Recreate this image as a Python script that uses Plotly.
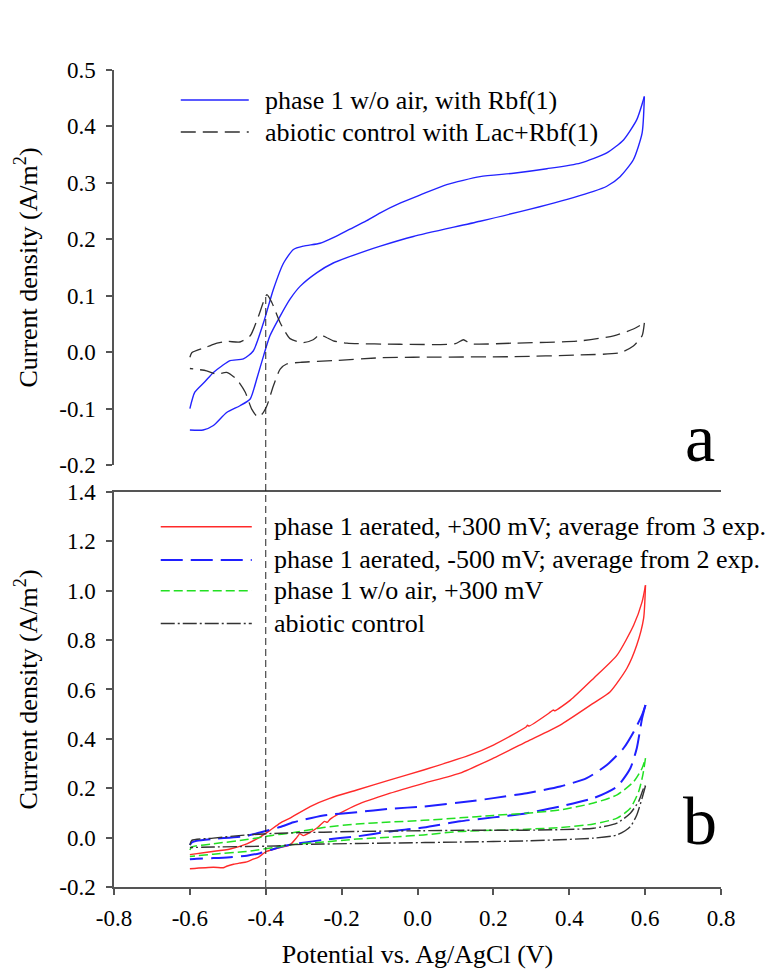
import plotly.graph_objects as go

# ---------------- data ----------------
# Panel a : phase 1 w/o air, with Rbf(1)
a_rbf_fwd_x = [-0.600, -0.587, -0.560, -0.538, -0.515, -0.494, -0.459, -0.433, -0.406, -0.380, -0.353, -0.327,
               -0.300, -0.257, -0.222, -0.178, -0.134, -0.098, -0.046, 0.009, 0.077, 0.165, 0.253, 0.341,
               0.429, 0.499, 0.543, 0.578, 0.598]
a_rbf_fwd_y = [-0.100, -0.071, -0.052, -0.036, -0.024, -0.015, -0.012, 0.002, 0.052, 0.111, 0.158, 0.182,
               0.188, 0.193, 0.203, 0.218, 0.233, 0.247, 0.264, 0.279, 0.297, 0.311, 0.317, 0.325,
               0.335, 0.353, 0.376, 0.412, 0.453]
a_rbf_rev_x = [0.598, 0.592, 0.569, 0.534, 0.499, 0.464, 0.341, 0.165, -0.011, -0.098, -0.134, -0.222,
               -0.265, -0.309, -0.336, -0.362, -0.389, -0.406, -0.424, -0.441, -0.468, -0.503, -0.538,
               -0.565, -0.600]
a_rbf_rev_y = [0.453, 0.388, 0.341, 0.311, 0.294, 0.285, 0.261, 0.232, 0.205, 0.188, 0.180, 0.158,
               0.141, 0.117, 0.094, 0.064, 0.029, -0.007, -0.048, -0.083, -0.095, -0.107, -0.130,
               -0.138, -0.138]

# Panel a : abiotic control with Lac+Rbf(1)
a_ctl_fwd_x = [-0.600, -0.595, -0.560, -0.538, -0.503, -0.468, -0.441, -0.419, -0.397, -0.384, -0.362,
               -0.336, -0.301, -0.275, -0.257, -0.240, -0.222, -0.186, -0.046, 0.100, 0.121, 0.140,
               0.253, 0.429, 0.517, 0.569, 0.598]
a_ctl_fwd_y = [-0.009, -0.001, 0.008, 0.014, 0.019, 0.018, 0.029, 0.064, 0.102, 0.088, 0.052,
               0.024, 0.017, 0.022, 0.031, 0.026, 0.020, 0.016, 0.014, 0.015, 0.022, 0.015,
               0.016, 0.020, 0.029, 0.041, 0.052]
a_ctl_rev_x = [0.598, 0.592, 0.569, 0.534, 0.429, 0.253, -0.011, -0.098, -0.222, -0.309, -0.345, -0.362,
               -0.380, -0.397, -0.410, -0.421, -0.437, -0.454, -0.477, -0.503, -0.530, -0.556, -0.600]
a_ctl_rev_y = [0.052, 0.029, 0.011, -0.001, -0.005, -0.008, -0.009, -0.010, -0.015, -0.018, -0.021, -0.030,
               -0.060, -0.095, -0.110, -0.115, -0.101, -0.071, -0.048, -0.036, -0.039, -0.033, -0.029]

# Panel b : phase 1 aerated, +300 mV
b_red_fwd_x = [-0.600, -0.550, -0.494, -0.450, -0.415, -0.389, -0.362, -0.336, -0.283, -0.230, -0.160,
               -0.072, 0.016, 0.139, 0.200, 0.286, 0.290, 0.294, 0.350, 0.358, 0.362, 0.403, 0.464,
               0.526, 0.570, 0.592, 0.601]
b_red_fwd_y = [-0.069, -0.058, -0.046, -0.025, 0.002, 0.029, 0.059, 0.079, 0.126, 0.160, 0.193,
               0.234, 0.274, 0.335, 0.375, 0.448, 0.455, 0.452, 0.508, 0.517, 0.514, 0.557, 0.645,
               0.739, 0.861, 0.955, 1.022]
b_red_rev_x = [0.601, 0.596, 0.578, 0.552, 0.508, 0.464, 0.376, 0.288, 0.200, 0.112, 0.016, -0.072,
               -0.160, -0.204, -0.230, -0.238, -0.245, -0.265, -0.301, -0.310, -0.318, -0.336, -0.362,
               -0.398, -0.420, -0.433, -0.450, -0.468, -0.485, -0.503, -0.512, -0.538, -0.600]
b_red_rev_y = [1.022, 0.888, 0.780, 0.686, 0.591, 0.545, 0.456, 0.389, 0.322, 0.261, 0.220, 0.180,
               0.133, 0.099, 0.075, 0.062, 0.066, 0.039, 0.008, 0.016, 0.001, -0.029, -0.040,
               -0.056, -0.080, -0.087, -0.098, -0.103, -0.108, -0.116, -0.122, -0.120, -0.126]

# Panel b : phase 1 aerated, -500 mV
b_blue_fwd_x = [-0.600, -0.595, -0.582, -0.538, -0.450, -0.415, -0.362, -0.327, -0.248, -0.160, -0.072,
                0.016, 0.139, 0.200, 0.288, 0.376, 0.446, 0.499, 0.543, 0.570, 0.592, 0.601]
b_blue_fwd_y = [-0.030, -0.020, -0.013, -0.005, 0.007, 0.021, 0.043, 0.062, 0.090, 0.103, 0.117,
                0.126, 0.147, 0.160, 0.180, 0.207, 0.241, 0.294, 0.362, 0.429, 0.497, 0.537]
b_blue_rev_x = [0.601, 0.592, 0.578, 0.561, 0.526, 0.464, 0.376, 0.288, 0.200, 0.112, 0.016, -0.072,
                -0.160, -0.248, -0.336, -0.362, -0.415, -0.450, -0.494, -0.538, -0.582, -0.600]
b_blue_rev_y = [0.537, 0.483, 0.362, 0.281, 0.207, 0.160, 0.126, 0.099, 0.082, 0.066, 0.041, 0.025,
                0.005, -0.009, -0.029, -0.038, -0.063, -0.073, -0.079, -0.083, -0.086, -0.088]

# Panel b : phase 1 w/o air, +300 mV
b_green_fwd_x = [-0.600, -0.595, -0.538, -0.450, -0.380, -0.336, -0.248, -0.160, -0.072, 0.016, 0.112,
                 0.200, 0.288, 0.376, 0.464, 0.526, 0.570, 0.592, 0.601]
b_green_fwd_y = [-0.050, -0.038, -0.025, -0.008, 0.010, 0.018, 0.041, 0.055, 0.063, 0.070, 0.080,
                 0.090, 0.099, 0.112, 0.140, 0.173, 0.227, 0.281, 0.322]
b_green_rev_x = [0.601, 0.594, 0.583, 0.561, 0.526, 0.464, 0.376, 0.288, 0.112, 0.016, -0.072, -0.160,
                 -0.248, -0.336, -0.362, -0.450, -0.538, -0.600]
b_green_rev_y = [0.322, 0.254, 0.187, 0.119, 0.079, 0.055, 0.041, 0.034, 0.025, 0.011, 0.002, -0.006,
                 -0.018, -0.029, -0.036, -0.056, -0.067, -0.076]

# Panel b : abiotic control
b_ctl_fwd_x = [-0.600, -0.595, -0.538, -0.450, -0.362, -0.248, -0.160, 0.016, 0.139, 0.288, 0.464,
               0.526, 0.561, 0.583, 0.596, 0.601]
b_ctl_fwd_y = [-0.030, -0.011, -0.002, 0.011, 0.018, 0.022, 0.025, 0.028, 0.030, 0.030, 0.038,
               0.059, 0.099, 0.147, 0.200, 0.210]
b_ctl_rev_x = [0.601, 0.592, 0.578, 0.561, 0.526, 0.464, 0.288, 0.112, -0.072, -0.248, -0.336, -0.362,
               -0.538, -0.600]
b_ctl_rev_y = [0.210, 0.160, 0.092, 0.045, 0.011, -0.002, -0.013, -0.018, -0.022, -0.026, -0.029, -0.033,
               -0.038, -0.040]

labels_a = ["phase 1 w/o air, with Rbf(1)", "abiotic control with Lac+Rbf(1)"]
labels_b = ["phase 1 aerated, +300 mV; average from 3 exp.",
            "phase 1 aerated, -500 mV; average from 2 exp.",
            "phase 1 w/o air, +300 mV",
            "abiotic control"]

x_ticks = [-0.8, -0.6, -0.4, -0.2, 0.0, 0.2, 0.4, 0.6, 0.8]
x_ticktext = ["-0.8", "-0.6", "-0.4", "-0.2", "0.0", "0.2", "0.4", "0.6", "0.8"]
ya_ticks = [-0.2, -0.1, 0.0, 0.1, 0.2, 0.3, 0.4, 0.5]
ya_ticktext = ["-0.2", "-0.1", "0.0", "0.1", "0.2", "0.3", "0.4", "0.5"]
yb_ticks = [-0.2, 0.0, 0.2, 0.4, 0.6, 0.8, 1.0, 1.2, 1.4]
yb_ticktext = ["-0.2", "0.0", "0.2", "0.4", "0.6", "0.8", "1.0", "1.2", "1.4"]

marker_potential = -0.4   # vertical guide line
marker_current_a = 0.1    # where the guide starts in panel a

# ---------------- styling ----------------
FONT = "'Liberation Serif', 'Times New Roman', Times, serif"
AX = "#555555"
X_RANGE = [-0.8, 0.8]
YA_RANGE = [-0.2, 0.5]
YB_RANGE = [-0.2, 1.4]
TOP_DOM = [0.5165, 1.0]
BOT_DOM = [0.0, 0.4835]

styles_a = [dict(color="#2323ff", width=1.4, dash="solid"),
            dict(color="#303030", width=1.3, dash="15px,7px")]
styles_b = [dict(color="#ff2a2a", width=1.4, dash="solid"),
            dict(color="#1f1fff", width=2.0, dash="22px,8px"),
            dict(color="#22e022", width=1.5, dash="9px,4px"),
            dict(color="#333333", width=1.4, dash="14px,3px,2px,3px")]

fig = go.Figure()


def add_cv(fx, fy, rx, ry, st, name, xa, ya):
    # forward and reverse sweeps drawn as smooth branches of one loop
    for xs, ys in [(fx, fy), (rx, ry)]:
        fig.add_trace(go.Scatter(x=xs, y=ys, mode="lines", name=name, legendgroup=name,
                                 line=dict(color=st["color"], width=st["width"], dash=st["dash"],
                                           shape="spline", smoothing=0.6),
                                 xaxis=xa, yaxis=ya, showlegend=False))


add_cv(a_rbf_fwd_x, a_rbf_fwd_y, a_rbf_rev_x, a_rbf_rev_y, styles_a[0], labels_a[0], "x", "y")
add_cv(a_ctl_fwd_x, a_ctl_fwd_y, a_ctl_rev_x, a_ctl_rev_y, styles_a[1], labels_a[1], "x", "y")
add_cv(b_red_fwd_x, b_red_fwd_y, b_red_rev_x, b_red_rev_y, styles_b[0], labels_b[0], "x2", "y2")
add_cv(b_blue_fwd_x, b_blue_fwd_y, b_blue_rev_x, b_blue_rev_y, styles_b[1], labels_b[1], "x2", "y2")
add_cv(b_green_fwd_x, b_green_fwd_y, b_green_rev_x, b_green_rev_y, styles_b[2], labels_b[2], "x2", "y2")
add_cv(b_ctl_fwd_x, b_ctl_fwd_y, b_ctl_rev_x, b_ctl_rev_y, styles_b[3], labels_b[3], "x2", "y2")

shapes = []
annotations = []


# custom legends (long line samples like the original)
def legend_block(xref, yref, labels, styles, x0, x1, xt, ys):
    for lab, st, yy in zip(labels, styles, ys):
        shapes.append(dict(type="line", xref=xref, yref=yref, x0=x0, x1=x1, y0=yy, y1=yy,
                           line=dict(color=st["color"], width=st["width"], dash=st["dash"])))
        annotations.append(dict(text=lab, xref=xref, yref=yref, x=xt, y=yy, showarrow=False,
                                xanchor="left", yanchor="middle",
                                font=dict(family=FONT, size=26, color="black")))


legend_block("x domain", "y domain", labels_a, styles_a, 0.110, 0.222, 0.245, [0.924, 0.843])
legend_block("x2 domain", "y2 domain", labels_b, styles_b, 0.077, 0.227, 0.260,
             [0.912, 0.828, 0.750, 0.667])

# panel letters
annotations.append(dict(text="a", xref="x domain", yref="y domain", x=0.965, y=0.068,
                        showarrow=False, xanchor="center", yanchor="middle",
                        font=dict(family=FONT, size=68, color="black")))
annotations.append(dict(text="b", xref="x2 domain", yref="y2 domain", x=0.965, y=0.168,
                        showarrow=False, xanchor="center", yanchor="middle",
                        font=dict(family=FONT, size=68, color="black")))

# vertical dashed guide at -0.4 V spanning both panels
gx = (marker_potential - X_RANGE[0]) / (X_RANGE[1] - X_RANGE[0])
gy = TOP_DOM[0] + (marker_current_a - YA_RANGE[0]) / (YA_RANGE[1] - YA_RANGE[0]) * (TOP_DOM[1] - TOP_DOM[0])
shapes.append(dict(type="line", xref="x2 domain", yref="paper", x0=gx, x1=gx, y0=0, y1=gy,
                   line=dict(color="#222222", width=1, dash="7px,4px")))

tickfont = dict(family=FONT, size=23, color="black")
titlefont = dict(family=FONT, size=26, color="black")

fig.update_layout(
    width=778, height=976,
    margin=dict(l=114, r=57, t=70, b=87),
    paper_bgcolor="white", plot_bgcolor="white",
    font=dict(family=FONT, color="black"),
    showlegend=False,
    shapes=shapes, annotations=annotations,
    xaxis=dict(domain=[0, 1], anchor="y", range=X_RANGE, visible=False, matches="x2"),
    yaxis=dict(domain=TOP_DOM, anchor="x", range=YA_RANGE, tickvals=ya_ticks, ticktext=ya_ticktext,
               showline=True, linecolor=AX, linewidth=1.5, ticks="outside", ticklen=6,
               tickwidth=1.5, tickcolor=AX, showgrid=False, zeroline=False, tickfont=tickfont,
               ticklabelstandoff=6,
               title=dict(text="Current density (A/m<sup>2</sup>)", font=titlefont, standoff=14)),
    xaxis2=dict(domain=[0, 1], anchor="y2", range=X_RANGE, tickvals=x_ticks, ticktext=x_ticktext,
                showline=True, mirror=True, linecolor=AX, linewidth=1.5, ticks="outside",
                ticklen=6, tickwidth=1.5, tickcolor=AX, showgrid=False, zeroline=False,
                tickfont=tickfont, ticklabelstandoff=4,
                title=dict(text="Potential vs. Ag/AgCl (V)", font=titlefont, standoff=14)),
    yaxis2=dict(domain=BOT_DOM, anchor="x2", range=YB_RANGE, tickvals=yb_ticks, ticktext=yb_ticktext,
                showline=True, linecolor=AX, linewidth=1.5, ticks="outside", ticklen=6,
                tickwidth=1.5, tickcolor=AX, showgrid=False, zeroline=False, tickfont=tickfont,
                ticklabelstandoff=6,
                title=dict(text="Current density (A/m<sup>2</sup>)", font=titlefont, standoff=14)),
)

fig.write_html("out.html")
